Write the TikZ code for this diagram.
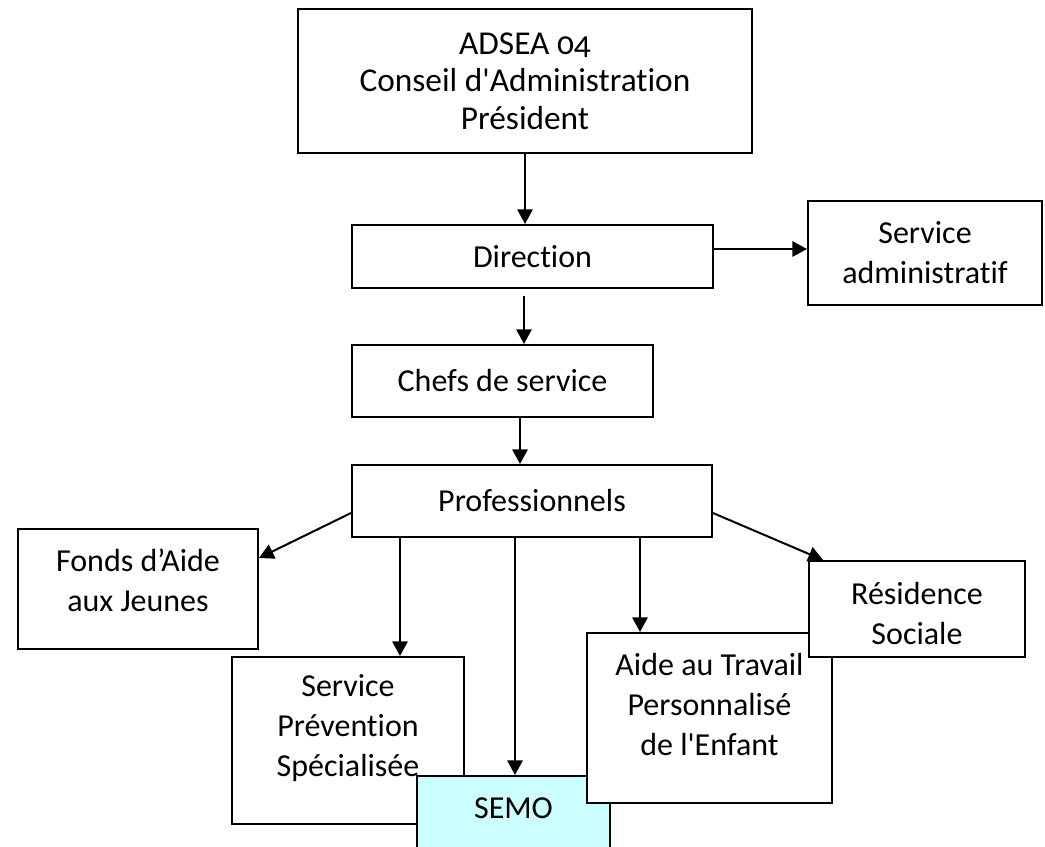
\documentclass[tikz,border=0pt]{standalone}
\usepackage{fontspec}
\setmainfont{Carlito}[Ligatures={TeXOff,NoCommon}]
\usetikzlibrary{arrows.meta}
\definecolor{semocyan}{HTML}{CCFFFF}
\tikzset{
  box/.style={draw=black, line width=1.5pt, fill=white, rectangle, inner sep=0pt, align=center,
    font=\fontsize{24pt}{30pt}\selectfont},
  txt/.style={inner sep=0pt, align=center, font=\fontsize{24pt}{30pt}\selectfont},
  conn/.style={line width=1.5pt, -{Triangle[length=11pt,width=11.5pt]}},
}
\begin{document}
\begin{tikzpicture}[x=0.75pt,y=-0.75pt]
\clip (0,0) rectangle (1045,846);
\fill[white] (0,0) rectangle (1045,846);
% boxes
\node[box, minimum width=454*0.75pt, minimum height=144*0.75pt,
  font=\fontsize{25pt}{28pt}\selectfont\addfontfeature{Numbers=OldStyle}] (adsea) at (525,81)
  {ADSEA 04\\Conseil d'Administration\\Président};
\node[box, minimum width=361*0.75pt, minimum height=63*0.75pt] (direction) at (532.5,256.5) {Direction};
\node[box, minimum width=234*0.75pt, minimum height=104*0.75pt] (admin) at (925,253) {Service\\administratif};
\node[box, minimum width=301*0.75pt, minimum height=72*0.75pt] (chefs) at (502.5,381) {Chefs de service};
\node[box, minimum width=360*0.75pt, minimum height=72*0.75pt] (prof) at (532,501) {Professionnels};
\node[box, minimum width=240*0.75pt, minimum height=120*0.75pt] (fonds) at (138,589) {};
\node[txt] (fondst) at (138,580) {Fonds d’Aide\\aux Jeunes};
\node[box, minimum width=232*0.75pt, minimum height=167*0.75pt] (sp) at (348,740.5) {};
\node[txt] (spt) at (348,728) {Service\\Prévention\\Spécialisée};
\node[box, fill=semocyan, minimum width=193*0.75pt, minimum height=94*0.75pt] (semo) at (513.5,823) {};
\node[txt] (semot) at (513.5,808) {SEMO};
\node[box, minimum width=245*0.75pt, minimum height=170*0.75pt] (aide) at (709.5,718) {};
\node[txt] (aidet) at (709.5,704) {Aide au Travail\\Personnalisé\\de l'Enfant};
\node[box, minimum width=216*0.75pt, minimum height=96*0.75pt] (res) at (917,609) {};
\node[txt] (rest) at (917,613) {Résidence\\Sociale};
% helper coordinates
\coordinate (c524) at (524,0);
\coordinate (c520) at (520,0);
\coordinate (c400) at (400,0);
\coordinate (c515) at (515,0);
\coordinate (c640) at (640,0);
\coordinate (r249) at (0,249);
\coordinate (r513) at (0,513);
\coordinate (r558) at (0,558);
\coordinate (p823) at (823,561);
% connectors
\draw[conn] (adsea.south) -- (adsea.south |- direction.north);
\draw[conn, shorten <=5pt] (c524 |- direction.south) -- (c524 |- chefs.north);
\draw[conn] (direction.east |- r249) -- (admin.west |- r249);
\draw[conn] (c520 |- chefs.south) -- (c520 |- prof.north);
\draw[conn] (prof.west |- r513) -- (fonds.east |- r558);
\draw[conn] (c400 |- prof.south) -- (c400 |- sp.north);
\draw[conn] (c515 |- prof.south) -- (c515 |- semo.north);
\draw[conn] (c640 |- prof.south) -- (c640 |- aide.north);
\draw[conn] (prof.east |- r513) -- (p823 |- res.north);
\end{tikzpicture}
\end{document}
